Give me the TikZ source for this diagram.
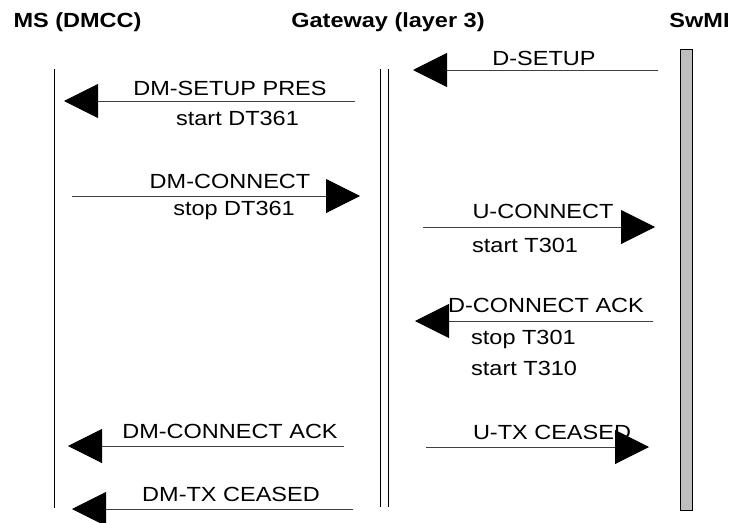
\documentclass[tikz,border=0pt]{standalone}
\usepackage{fontspec}
\setmainfont{Liberation Sans}
\usetikzlibrary{arrows.meta}
\newcommand{\vsq}[1]{\scalebox{1}[0.87]{#1}}
\begin{document}
\begin{tikzpicture}[x=1pt,y=-1pt,
  lbl/.style={inner sep=0pt, anchor=base, font=\fontsize{23.5}{28}\selectfont},
  lblw/.style={lbl, anchor=base west},
  hdr/.style={inner sep=0pt, anchor=base, font=\fontsize{23.5}{28}\selectfont\bfseries},
  msg/.style={draw=black!75, line width=1pt, -{Triangle[length=34pt,width=34pt,color=black,fill=black]}},
  life/.style={draw=black, line width=1pt},
  bar/.style={draw=black, line width=0.8pt, fill=black!25, inner sep=0pt, minimum width=12pt, minimum height=461pt, anchor=north}]
\useasboundingbox (0,0) rectangle (730,522);
% headers
\node[hdr] (hms) at (77.5,27.5) {\vsq{MS (DMCC)}};
\node[hdr] (hgw) at (388,27.5) {\vsq{Gateway (layer 3)}};
\node[hdr] (hsw) at (699.5,27.5) {\vsq{SwMI}};
% lifelines
\coordinate (mstop) at (54,69);
\coordinate (msbot) at (54,508);
\draw[life] (mstop) -- (msbot);
\coordinate (gwatop) at (380,69);
\coordinate (gwabot) at (380,507);
\coordinate (gwbtop) at (388,69);
\coordinate (gwbbot) at (388,507);
\draw[life] (gwatop) -- (gwabot);
\draw[life] (gwbtop) -- (gwbbot);
\node[bar] (swbar) at (686,49) {};
% messages
\coordinate (m1a) at (658,70);  \coordinate (m1b) at (413,70);
\coordinate (m2a) at (355,101); \coordinate (m2b) at (64,101);
\coordinate (m3a) at (72,196);  \coordinate (m3b) at (360,196);
\coordinate (m4a) at (423,227); \coordinate (m4b) at (655,227);
\coordinate (m5a) at (653,321); \coordinate (m5b) at (415,321);
\coordinate (m6a) at (426,447); \coordinate (m6b) at (649,447);
\coordinate (m7a) at (344,446); \coordinate (m7b) at (68,446);
\coordinate (m8a) at (353,509); \coordinate (m8b) at (72,509);
\draw[msg] (m1a) -- (m1b);
\draw[msg] (m2a) -- (m2b);
\draw[msg] (m3a) -- (m3b);
\draw[msg] (m4a) -- (m4b);
\draw[msg] (m5a) -- (m5b);
\draw[msg] (m6a) -- (m6b);
\draw[msg] (m7a) -- (m7b);
\draw[msg] (m8a) -- (m8b);
% labels
\node[lbl] (l1) at (544,65) {\vsq{D-SETUP}};
\node[lbl] (l2) at (230,95) {\vsq{DM-SETUP PRES}};
\node[lbl] (l2b) at (237.5,125) {\vsq{start DT361}};
\node[lbl] (l3) at (230,188) {\vsq{DM-CONNECT}};
\node[lbl] (l3b) at (234,215) {\vsq{stop DT361}};
\node[lbl] (l4) at (543,218) {\vsq{U-CONNECT}};
\node[lblw] (l4b) at (472,252) {\vsq{start T301}};
\node[lbl] (l5) at (546,312) {\vsq{D-CONNECT ACK}};
\node[lblw] (l5b) at (471,344) {\vsq{stop T301}};
\node[lblw] (l5c) at (471,375) {\vsq{start T310}};
\node[lbl] (l6) at (552,439) {\vsq{U-TX CEASED}};
\node[lbl] (l7) at (230,438) {\vsq{DM-CONNECT ACK}};
\node[lbl] (l8) at (231,501) {\vsq{DM-TX CEASED}};
\end{tikzpicture}
\end{document}
